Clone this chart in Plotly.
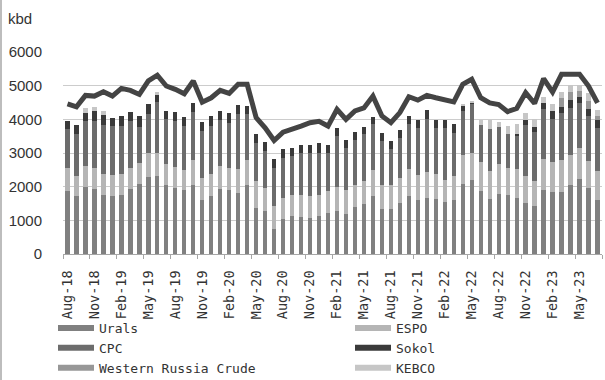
import pandas as pd
import plotly.graph_objects as go

months = pd.date_range("2018-08-01", periods=60, freq="MS").strftime("%b-%y").tolist()

urals = [1865, 1716, 1994, 1934, 1766, 1716, 1766, 1934, 2093, 2292, 2331, 2044,
         1964, 1915, 2063, 1617, 1716, 1934, 1895, 1815, 2063, 1369, 1270, 744,
         1042, 1121, 1091, 1071, 1121, 1220, 1270, 1200, 1389, 1498, 1736, 1339,
         1339, 1518, 1736, 1617, 1667, 1637, 1538, 1617, 2093, 2212, 1865, 1637,
         1796, 1766, 1667, 1518, 1419, 1915, 1855, 1855, 2063, 2242, 1964, 1617]
espo = [675, 595, 615, 625, 625, 645, 625, 625, 615, 714, 675, 615,
        625, 595, 744, 645, 675, 675, 665, 714, 744, 794, 694, 675,
        625, 645, 675, 645, 625, 645, 724, 694, 675, 684, 754, 724,
        724, 744, 794, 744, 764, 754, 675, 714, 833, 794, 863, 823,
        863, 774, 844, 813, 764, 913, 873, 950, 873, 893, 794, 843]
cpc = [1161, 1240, 1339, 1389, 1428, 1438, 1409, 1389, 1071, 1141, 1518, 1359,
       1359, 1290, 1409, 1389, 1409, 1359, 1339, 1617, 1339, 1121, 1091, 1141,
       1190, 1141, 1220, 1270, 1260, 1121, 1508, 1260, 1319, 1369, 1359, 1290,
       1042, 1171, 1319, 1389, 1587, 1359, 1538, 1270, 1319, 1448, 1091, 1260,
       1111, 1032, 1012, 1488, 1438, 1468, 1270, 1370, 1409, 1359, 1339, 1290]
sokol = [248, 268, 238, 288, 298, 248, 298, 278, 308, 298, 208, 228,
         278, 268, 278, 268, 298, 278, 298, 278, 248, 268, 268, 268,
         248, 238, 258, 238, 278, 238, 228, 228, 248, 228, 228, 238,
         248, 248, 248, 218, 248, 218, 218, 248, 169, 60, 0, 0,
         0, 0, 50, 149, 159, 179, 248, 198, 228, 179, 198, 228]
western = [0] * 55 + [250, 238, 169, 248, 119]
kebco = [0, 0, 149, 139, 129, 0, 0, 0, 0, 0, 89, 0,
         0, 0, 0, 0, 0, 0, 0, 0, 0, 0, 0, 0,
         0, 0, 0, 0, 0, 0, 0, 0, 0, 0, 0, 0,
         0, 0, 0, 0, 0, 0, 0, 0, 50, 30, 159, 258,
         159, 228, 278, 228, 238, 198, 198, 200, 198, 169, 248, 179]
total = [4460, 4370, 4710, 4690, 4820, 4690, 4920, 4860, 4740, 5140, 5310, 4990,
         4890, 4760, 5140, 4510, 4640, 4860, 4770, 5040, 5040, 4050, 3750, 3370,
         3620, 3700, 3800, 3900, 3940, 3800, 4300, 4000, 4250, 4340, 4690, 4100,
         3900, 4200, 4670, 4570, 4710, 4640, 4590, 4520, 5040, 5190, 4640, 4490,
         4440, 4230, 4320, 4790, 4470, 5210, 4810, 5340, 5340, 5340, 4990, 4490]

series_names = ["Urals", "ESPO", "CPC", "Sokol", "Western Russia Crude", "KEBCO"]
series_values = [urals, espo, cpc, sokol, western, kebco]
series_colors = ["#808080", "#b5b5b5", "#6c6c6c", "#3a3a3a", "#979797", "#c6c6c6"]
legend_column = ["legend", "legend2", "legend", "legend2", "legend", "legend2"]

x = list(range(len(months)))
tick_idx = x[::3]

fig = go.Figure()
for name, vals, col in zip(series_names, series_values, series_colors):
    fig.add_trace(go.Bar(x=x, y=vals, name=name, marker=dict(color=col, line=dict(width=0)),
                         showlegend=False))
fig.add_trace(go.Scatter(x=x, y=total, mode="lines", name="Total",
                         line=dict(color="#444444", width=5), showlegend=False))
# legend entries (wide swatches), two columns
for name, col, lg in zip(series_names, series_colors, legend_column):
    fig.add_trace(go.Scatter(x=[None], y=[None], mode="lines", name=name,
                             line=dict(color=col, width=6), showlegend=True, legend=lg))

W, H = 605, 380
ml, mr, mt, mb = 63, 3, 52, 126
pw, ph = W - ml - mr, H - mt - mb

legend_font = dict(family="DejaVu Sans Mono", size=13, color="#333333")
legend_top = -(313 - (mt + ph)) / ph

fig.update_layout(
    width=W, height=H,
    margin=dict(l=ml, r=mr, t=mt, b=mb, pad=0, autoexpand=False),
    paper_bgcolor="white", plot_bgcolor="white",
    barmode="stack", bargap=0.52,
    font=dict(family="Liberation Sans", color="#333333"),
    legend=dict(orientation="v", x=(53 - ml) / pw, xanchor="left",
                y=legend_top, yanchor="top", traceorder="normal",
                font=legend_font, itemwidth=36, bgcolor="rgba(0,0,0,0)"),
    legend2=dict(orientation="v", x=(350 - ml) / pw, xanchor="left",
                 y=legend_top, yanchor="top", traceorder="normal",
                 font=legend_font, itemwidth=36, bgcolor="rgba(0,0,0,0)"),
    xaxis=dict(range=[-0.5, len(months) - 0.5], tickmode="array", tickvals=tick_idx,
               ticktext=[months[i] for i in tick_idx], tickangle=-90,
               ticks="", showgrid=False, zeroline=False,
               showline=True, linecolor="#a6a6a6", linewidth=1,
               tickfont=dict(family="DejaVu Sans Mono", size=13.5, color="#333333"),
               ticklabelstandoff=10,
               minor=dict(tickmode="linear", tick0=-0.5, dtick=3, ticks="outside",
                          ticklen=4, tickcolor="#a6a6a6", showgrid=False)),
    yaxis=dict(range=[0, 6000], dtick=1000, showgrid=True, gridcolor="#cccccc",
               gridwidth=1, zeroline=False, showline=False, ticks="",
               tickfont=dict(family="Liberation Sans", size=15, color="#333333"),
               ticklabelstandoff=20),
    annotations=[dict(text="kbd", xref="paper", yref="paper",
                      x=(6 - ml) / pw, y=1 + (mt - 18) / ph, xanchor="left", yanchor="middle",
                      showarrow=False, font=dict(family="Liberation Sans", size=15, color="#333333"))],
    shapes=[dict(type="line", xref="paper", yref="paper",
                 x0=(1 - ml) / pw, x1=(1 - ml) / pw, y0=-mb / ph, y1=1 + mt / ph,
                 line=dict(color="#bdbdbd", width=2))],
)

fig.write_html("out.html", config={"displayModeBar": False},
               post_script="document.body.style.margin='0';document.body.style.overflow='hidden';")
